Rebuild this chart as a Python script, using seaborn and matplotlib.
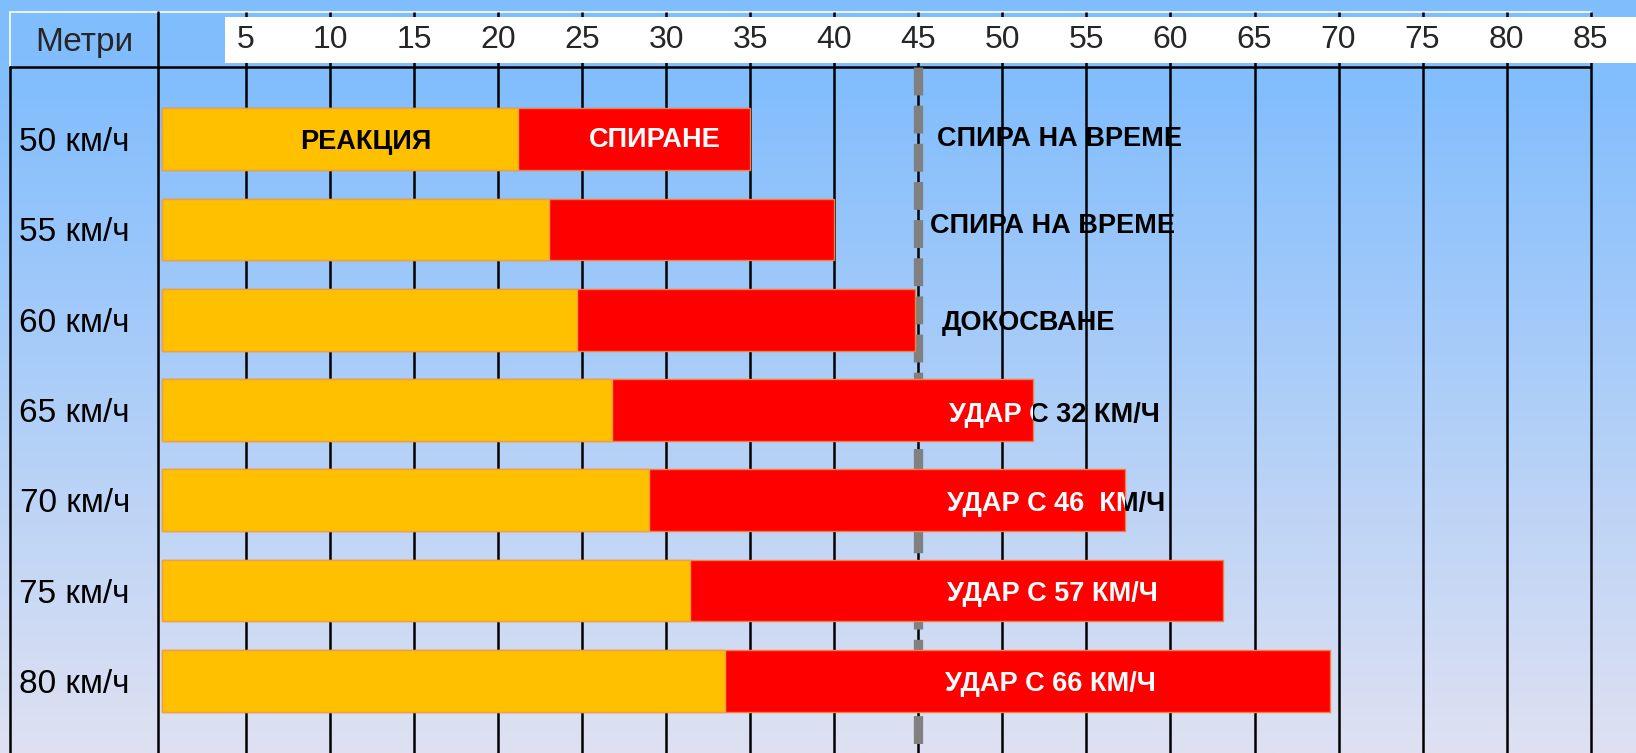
import numpy as np
import matplotlib
matplotlib.use('Agg')
import matplotlib.pyplot as plt
import matplotlib.patches as mpatches
from matplotlib.colors import LinearSegmentedColormap
import pandas as pd
import seaborn as sns

speeds = ['50 км/ч', '55 км/ч', '60 км/ч', '65 км/ч', '70 км/ч', '75 км/ч', '80 км/ч']
reaction = [21.2, 23.0, 24.7, 26.8, 29.0, 31.4, 33.5]
total = [35.0, 40.0, 44.8, 51.8, 57.3, 63.1, 69.5]
outcomes = ['СПИРА НА ВРЕМЕ', 'СПИРА НА ВРЕМЕ', 'ДОКОСВАНЕ', 'УДАР С 32 КМ/Ч',
            'УДАР С 46  КМ/Ч', 'УДАР С 57 КМ/Ч', 'УДАР С 66 КМ/Ч']
ticks = list(range(5, 90, 5))
limit = 45

sns.set_style('white')
plt.rcParams['font.family'] = ['Liberation Sans', 'DejaVu Sans']

W, H = 1636, 753
fig = plt.figure(figsize=(W / 100, H / 100), dpi=100)

# pixel layout of the table
col_x = 157.7      # left edge of the plot column
head_top, head_bot = 12.3, 66.7
x0_px, ppu = 162.0, 16.808   # where 0 m sits, pixels per metre
xlim = ((col_x - x0_px) / ppu, (W - x0_px) / ppu)
ylim = (6.80, -0.803)

# background gradient, in pixel coordinates
bg = fig.add_axes([0, 0, 1, 1], zorder=0)
grad = LinearSegmentedColormap.from_list(
    'bg', [(0, '#80bdfe'), (0.12, '#83befd'), (1, '#dfe1f2')])
bg.imshow(np.linspace(0, 1, 256).reshape(-1, 1), aspect='auto', cmap=grad,
          extent=[0, W, H, 0])
bg.set_xlim(0, W)
bg.set_ylim(H, 0)
bg.axis('off')

right_px = x0_px + 85 * ppu
bg.plot([10, right_px], [head_top, head_top], color='white', lw=1.2)
bg.plot([10, 10], [head_top, head_bot], color='white', lw=1.2)
bg.plot([10, 10], [head_bot, H], color='black', lw=1.8)
bg.plot([col_x, col_x], [head_top, H], color='black', lw=1.8)
bg.plot([10, right_px], [head_bot, head_bot], color='black', lw=1.8)

# header with the metre scale
axh = fig.add_axes([col_x / W, (H - head_bot) / H, 1 - col_x / W,
                    (head_bot - head_top) / H], zorder=1)
axh.set_xlim(*xlim)
axh.set_ylim(0, 1)
axh.axis('off')
axh.vlines(ticks, 0, 1, color='black', lw=1.8, zorder=1)
hh = head_bot - head_top
strip_x = (225 - x0_px) / ppu
axh.add_patch(mpatches.Rectangle((strip_x, (head_bot - 63.3) / hh),
                                 xlim[1] - strip_x, (63.3 - 17.3) / hh,
                                 facecolor='white', edgecolor='none', zorder=2))
for t in ticks:
    axh.text(t, (head_bot - 47.8) / hh, str(t), ha='center', va='baseline',
             fontsize=23, zorder=3)

fig.text(84 / W, 1 - 50.5 / H, 'Метри', ha='center', va='baseline', fontsize=24)

# main bars
ax = fig.add_axes([col_x / W, 0, 1 - col_x / W, (H - head_bot) / H], zorder=2)
ax.patch.set_alpha(0)
df = pd.DataFrame({'speed': speeds, 'reaction': reaction, 'total': total})
sns.barplot(data=df, y='speed', x='total', color='#ff0000', saturation=1,
            width=0.683, edgecolor='#f08040', linewidth=1, ax=ax, zorder=3)
sns.barplot(data=df, y='speed', x='reaction', color='#ffc000', saturation=1,
            width=0.683, edgecolor='#f0a040', linewidth=1, ax=ax, zorder=4)

ax.vlines(ticks, ylim[1], ylim[0], color='black', lw=1.8, zorder=1)
ax.plot([limit, limit], [ylim[1], ylim[0]], color='#808080', lw=6.7,
        dashes=(3.0, 1.1), dash_capstyle='butt', zorder=2)

ax.set_xlim(*xlim)
ax.set_ylim(*ylim)
ax.set_xlabel('')
ax.set_ylabel('')
ax.set_xticks([])
for s in ax.spines.values():
    s.set_visible(False)
ax.tick_params(axis='y', length=0, pad=20, labelsize=24, labelcolor='black')

bold = dict(fontsize=19.5, fontweight='bold', va='center_baseline', zorder=6)
ax.text(12.13, 0.0, 'РЕАКЦИЯ', ha='center', color='black', **bold)
ax.text(29.3, -0.02, 'СПИРАНЕ', ha='center', color='white', **bold)

# outcome labels: white over the red bar, black past its end
label_x = [46.1, 45.7, 46.4, 46.8, 46.7, 46.7, 46.6]
label_dy = [-0.04, -0.07, 0.0, 0.02, 0.01, 0.01, 0.0]
for i, (txt, tot) in enumerate(zip(outcomes, total)):
    y = i + label_dy[i]
    inside = mpatches.Rectangle((xlim[0], i - 0.5), tot - xlim[0], 1,
                                transform=ax.transData)
    outside = mpatches.Rectangle((tot, i - 0.5), 200, 1, transform=ax.transData)
    tw = ax.text(label_x[i], y, txt, ha='left', color='white', clip_on=True, **bold)
    tw.set_clip_path(inside)
    tb = ax.text(label_x[i], y, txt, ha='left', color='black', clip_on=True, **bold)
    tb.set_clip_path(outside)

fig.savefig('out.png', dpi=100)
